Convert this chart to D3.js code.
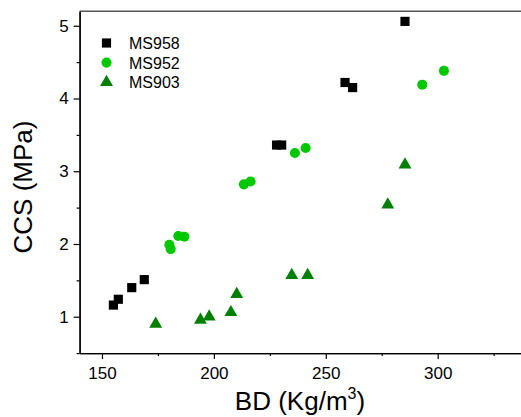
<!DOCTYPE html>
<html>
<head>
<meta charset="utf-8">
<script src="https://cdn.jsdelivr.net/npm/d3@7"></script>
<style>
  html, body { margin: 0; padding: 0; background: #fff; }
  svg { display: block; overflow: hidden; }
  text { font-family: "Liberation Sans", Arial, sans-serif; fill: #000; }
</style>
</head>
<body>
<svg id="chart" width="521" height="417"></svg>
<script>
// ---- data ----
const seriesNames = ["MS958", "MS952", "MS903"];
const ms958BD  = [155.1, 157.3, 163.3, 168.9, 228.0, 230.3, 258.6, 262.0, 285.4];
const ms958CCS = [1.16, 1.24, 1.40, 1.51, 3.36, 3.36, 4.22, 4.15, 5.06];
const ms952BD  = [180.1, 180.7, 184.1, 186.8, 213.4, 216.4, 236.2, 241.0, 293.1, 302.8];
const ms952CCS = [1.99, 1.93, 2.11, 2.10, 2.82, 2.86, 3.25, 3.32, 4.19, 4.38];
const ms903BD  = [174.0, 194.0, 197.9, 207.6, 210.2, 234.8, 241.9, 277.7, 285.4];
const ms903CCS = [0.90, 0.955, 1.00, 1.06, 1.31, 1.57, 1.57, 2.54, 3.09];
const xMajorTicks = [150, 200, 250, 300];
const xMinorTicks = [175, 225, 275, 325];
const yMajorTicks = [1, 2, 3, 4, 5];
const yMinorTicks = [0.5, 1.5, 2.5, 3.5, 4.5];
const xDomain = [140, 340];
const yDomain = [0.5, 5.2];

// ---- layout ----
(function () {
const svg = d3.select("#chart");
const pLeft = 79.6, pRight = 527.2, pTop = 11.2, pBottom = 353.1;
const x = d3.scaleLinear().domain(xDomain).range([pLeft, pRight]);
const y = d3.scaleLinear().domain(yDomain).range([pBottom, pTop]);

const styles = [
  { type: d3.symbolSquare,   size: 84, color: "#000000" },
  { type: d3.symbolCircle,   size: 80, color: "#00c800" },
  { type: d3.symbolTriangle, size: 72, color: "#008000" }
];
const series = [
  { name: seriesNames[0], xs: ms958BD, ys: ms958CCS },
  { name: seriesNames[1], xs: ms952BD, ys: ms952CCS },
  { name: seriesNames[2], xs: ms903BD, ys: ms903CCS }
];

// top frame line
svg.append("line")
  .attr("x1", pLeft).attr("x2", pRight).attr("y1", pTop).attr("y2", pTop)
  .attr("stroke", "#555").attr("stroke-width", 1.6);
// right frame line (outside view)
svg.append("line")
  .attr("x1", pRight).attr("x2", pRight).attr("y1", pTop).attr("y2", pBottom)
  .attr("stroke", "#555").attr("stroke-width", 1.6);

// axes
function styleAxis(g) {
  g.selectAll("path.domain").attr("stroke", "#000").attr("stroke-width", 1.3);
  g.selectAll(".tick line").attr("stroke", "#000").attr("stroke-width", 1.2);
  g.selectAll(".tick text").attr("font-size", 17).attr("font-family", "Liberation Sans, Arial, sans-serif").attr("fill", "#000");
}
const gx = svg.append("g").attr("transform", `translate(0,${pBottom})`)
  .call(d3.axisBottom(x).tickValues(xMajorTicks).tickSize(6).tickSizeOuter(0).tickPadding(8).tickFormat(d3.format("d")));
styleAxis(gx);
const gxm = svg.append("g").attr("transform", `translate(0,${pBottom})`)
  .call(d3.axisBottom(x).tickValues(xMinorTicks).tickSize(3).tickSizeOuter(0).tickFormat(""));
styleAxis(gxm);
const gy = svg.append("g").attr("transform", `translate(${pLeft},0)`)
  .call(d3.axisLeft(y).tickValues(yMajorTicks).tickSize(6).tickSizeOuter(0).tickPadding(5).tickFormat(d3.format("d")));
styleAxis(gy);
const gym = svg.append("g").attr("transform", `translate(${pLeft},0)`)
  .call(d3.axisLeft(y).tickValues(yMinorTicks).tickSize(3).tickSizeOuter(0).tickFormat(""));
styleAxis(gym);

// points
series.forEach((s, i) => {
  const st = styles[i];
  svg.append("g").selectAll("path")
    .data(s.xs.map((v, j) => [v, s.ys[j]]))
    .join("path")
    .attr("d", d3.symbol().type(st.type).size(st.size))
    .attr("transform", d => `translate(${x(d[0])},${y(d[1])})`)
    .attr("fill", st.color);
});

// legend
const lg = svg.append("g");
series.forEach((s, i) => {
  const st = styles[i];
  const cy = 43 + i * 19.6;
  lg.append("path")
    .attr("d", d3.symbol().type(st.type).size(st.size))
    .attr("transform", `translate(106.5,${cy})`)
    .attr("fill", st.color);
  lg.append("text").attr("x", 129).attr("y", cy + 6)
    .attr("font-size", 16).text(s.name);
});

// axis titles
svg.append("text")
  .attr("transform", "translate(32,187) rotate(-90)")
  .attr("text-anchor", "middle")
  .attr("font-size", 26)
  .text("CCS (MPa)");

const xt = svg.append("text")
  .attr("x", 300).attr("y", 410)
  .attr("text-anchor", "middle")
  .attr("font-size", 26);
xt.append("tspan").text("BD (Kg/m");
xt.append("tspan").attr("font-size", 16).attr("dy", -11).text("3");
xt.append("tspan").attr("dy", 11).text(")");
})();
</script>
</body>
</html>
